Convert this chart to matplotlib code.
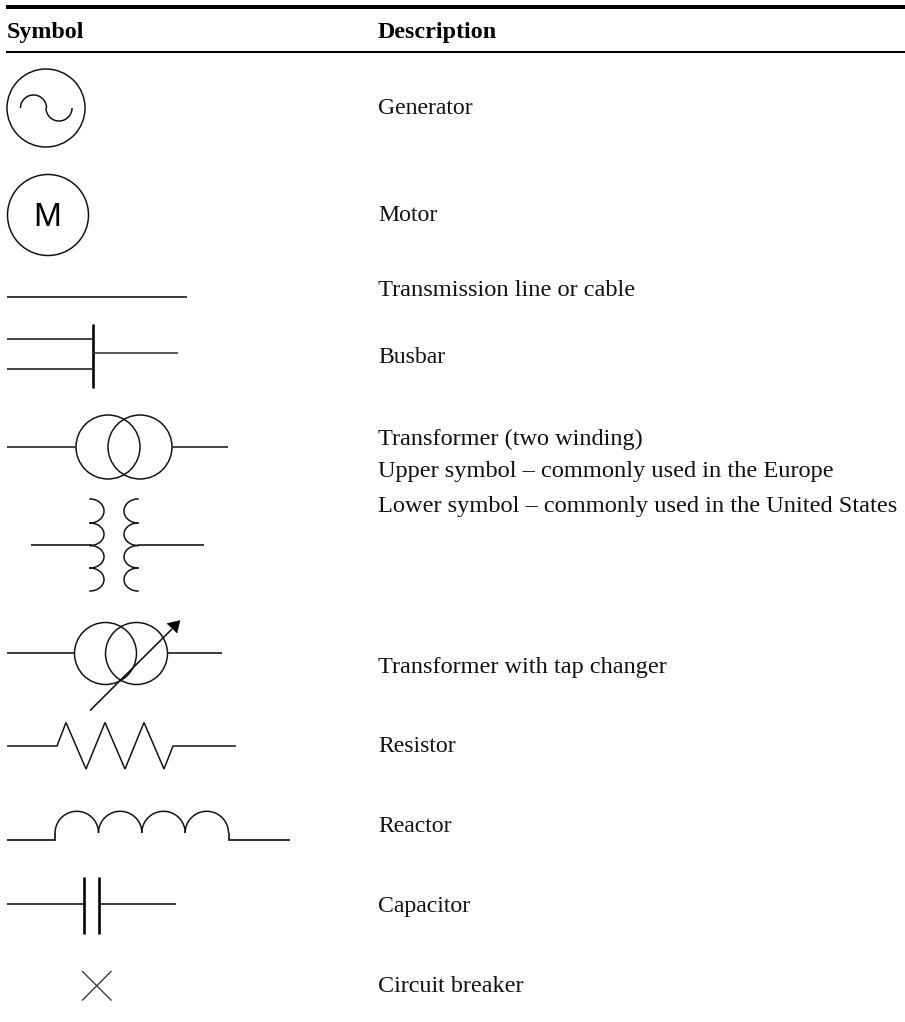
import numpy as np
import matplotlib
matplotlib.use("Agg")
import matplotlib.pyplot as plt
from matplotlib.patches import Circle, Polygon

headers = ["Symbol", "Description"]
descriptions = ["Generator", "Motor", "Transmission line or cable", "Busbar",
                "Transformer (two winding)",
                "Upper symbol \u2013 commonly used in the Europe",
                "Lower symbol \u2013 commonly used in the United States",
                "Transformer with tap changer", "Resistor", "Reactor",
                "Capacitor", "Circuit breaker"]
desc_rows = [114, 220.7, 296, 362.7, 444.5, 476.7, 511.7, 672.7, 751.7, 831.7, 911.7, 991.7]
desc_sizes = [17.1, 17.1, 17.55, 17.1, 17.5, 17.55, 17.55, 17.5, 17.1, 17.1, 17.1, 17.4]

W, H = 905, 1022
fig = plt.figure(figsize=(W / 100, H / 100), dpi=100)
ax = fig.add_axes([0, 0, 1, 1])
ax.set_xlim(0, W)
ax.set_ylim(H, 0)
ax.axis("off")
PX = 72 / 100
SERIF = "Liberation Serif"


def line(xs, ys, lw=1.6, color="#111111"):
    ax.plot(xs, ys, color=color, lw=lw * PX, solid_capstyle="butt", solid_joinstyle="miter")


def circ(x, y, r, lw=1.5):
    ax.add_patch(Circle((x, y), r, fill=False, ec="#111111", lw=lw * PX))


def arc(cx, cy, r, t0, t1, lw=1.5):
    t = np.radians(np.linspace(t0, t1, 60))
    ax.plot(cx + r * np.cos(t), cy + r * np.sin(t), color="#111111", lw=lw * PX, solid_capstyle="butt")


# rules and headers
line([6, 905], [7.5, 7.5], lw=4, color="black")
line([6, 905], [52, 52], lw=2, color="black")
ax.text(7, 38, headers[0], family=SERIF, weight="bold", fontsize=17.3, color="black", va="baseline")
ax.text(378, 38, headers[1], family=SERIF, weight="bold", fontsize=17.3, color="black", va="baseline")

# descriptions
for s, y, fs in zip(descriptions, desc_rows, desc_sizes):
    ax.text(378, y, s, family=SERIF, fontsize=fs, color="#111111", va="baseline")

# generator
circ(46, 108, 39)
arc(33.5, 108, 13, 180, 360)
arc(59, 108, 13, 180, 0)

# motor
circ(48, 215, 40.5)
ax.text(47.5, 226, "M", family="Liberation Sans", fontsize=24, color="black", ha="center", va="baseline")

# transmission line
line([7, 187], [297, 297])

# busbar
line([92.5, 92.5], [324, 388], lw=2.6, color="black")
line([7, 92], [339, 339], lw=1.8, color="#333333")
line([7, 92], [369, 369], lw=1.8, color="#333333")
line([92, 178], [353.5, 353.5], lw=1.6, color="#333333")

# transformer (Europe)
line([7, 76], [447, 447], lw=1.8, color="#333333")
circ(108, 447, 32)
circ(140, 447, 32)
line([172, 228], [447, 447], lw=1.8, color="#333333")

# transformer (US)
line([31, 92], [545.5, 545.5])
line([138, 204], [545.5, 545.5])
for y0, y1 in [(499, 523), (523, 545.5), (545.5, 568), (568, 591)]:
    r = (y1 - y0) / 2
    t = np.radians(np.linspace(-90, 90, 40))
    ax.plot(90 + 14 * np.cos(t), (y0 + y1) / 2 + r * np.sin(t), color="#111111", lw=1.5 * PX)
    ax.plot(138 - 14 * np.cos(t), (y0 + y1) / 2 + r * np.sin(t), color="#111111", lw=1.5 * PX)

# transformer with tap changer
line([7, 74.5], [653.5, 653.5])
circ(105.5, 653.5, 31)
circ(136.5, 653.5, 31)
line([167, 222], [653.5, 653.5])
line([90, 172], [710.5, 629])
ax.add_patch(Polygon([(180, 620.5), (177, 633), (167, 623.5)], closed=True, fc="black", ec="black", lw=0.3))

# resistor
line([7, 57, 66, 86, 105, 125, 144, 164, 173, 236],
     [746, 746, 722.5, 769, 722.5, 769, 722.5, 769, 746, 746], lw=1.5)

# reactor
line([7, 55, 55], [839.7, 839.7, 833], lw=1.7)
for cx in [76.8, 120.2, 163.5, 206.8]:
    arc(cx, 833, 21.7, 180, 360)
line([228.5, 228.5, 290], [833, 839.7, 839.7], lw=1.7)

# capacitor
line([7, 83], [903.7, 903.7])
line([84, 84], [876.7, 934.5], lw=2.6, color="black")
line([99, 99], [876.7, 934.5], lw=2.6, color="black")
line([100, 176], [903.7, 903.7])

# circuit breaker
line([82, 111.5], [971, 1000.5], lw=1.3, color="#333333")
line([82, 111.5], [1000.5, 971], lw=1.3, color="#333333")

fig.savefig("out.png", dpi=100, facecolor="white")
